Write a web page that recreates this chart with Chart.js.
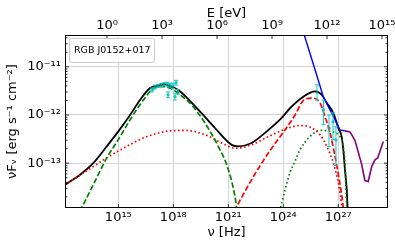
<!DOCTYPE html>
<html>
<head>
<meta charset="utf-8">
<script src="https://cdn.jsdelivr.net/npm/chart.js@4.4.0/dist/chart.umd.min.js"></script>
<style>
  html, body { margin: 0; padding: 0; background: #fff; }
  #wrap { width: 395px; height: 247px; }
</style>
</head>
<body>
<div id="wrap"><canvas id="sed"></canvas></div>
<script>
// values are log10(nu / Hz) and log10(nuFnu / erg s^-1 cm^-2)
const totalNu = [12.09, 12.91, 13.63, 14.37, 15.0, 15.64, 16.18, 16.73, 17.18, 17.45, 17.8, 18.27, 19.36, 20.27, 21.18, 21.54, 22.27, 23.0, 23.91, 24.36, 25.09, 25.73, 26.09, 26.37, 26.73, 27.0, 27.18, 27.27, 27.36, 27.46, 27.52];
const totalFlux = [-13.45, -13.24, -13.0, -12.65, -12.34, -12.0, -11.69, -11.44, -11.385, -11.365, -11.4, -11.48, -11.89, -12.27, -12.62, -12.65, -12.58, -12.37, -12.06, -11.86, -11.62, -11.51, -11.58, -11.75, -11.96, -12.27, -12.45, -12.72, -13.13, -13.55, -14.05];

const greenDashedNu = [12.9, 13.63, 14.37, 15.0, 15.64, 16.36, 16.91, 17.44, 17.93, 18.27, 19.0, 19.73, 20.45, 21.0, 21.36, 21.5];
const greenDashedFlux = [-14.0, -13.45, -12.89, -12.51, -12.1, -11.69, -11.45, -11.41, -11.46, -11.55, -11.79, -12.17, -12.65, -13.13, -13.69, -14.05];

const redDottedNu = [12.09, 13.63, 14.37, 15.46, 16.55, 17.82, 18.64, 19.73, 20.64, 21.36, 22.27, 23.18, 24.27, 24.91, 25.45, 26.0, 26.37, 26.73, 27.0, 27.18, 27.25];
const redDottedFlux = [-13.45, -13.07, -12.89, -12.65, -12.45, -12.33, -12.32, -12.41, -12.58, -12.69, -12.62, -12.45, -12.27, -12.22, -12.25, -12.41, -12.65, -13.0, -13.41, -13.86, -14.05];

const redDashedNu = [21.31, 22.27, 23.18, 24.09, 24.64, 25.09, 25.55, 26.0, 26.27, 26.55, 26.82, 27.05, 27.24, 27.3];
const redDashedFlux = [-14.0, -13.34, -12.79, -12.31, -12.0, -11.7, -11.65, -11.75, -12.03, -12.37, -12.86, -13.34, -13.82, -14.05];

const greenDottedNu = [23.79, 24.36, 24.64, 24.91, 25.45, 26.0, 26.55, 27.09, 27.27, 27.36, 27.42, 27.47];
const greenDottedFlux = [-14.0, -13.2, -12.96, -12.72, -12.45, -12.32, -12.34, -12.45, -12.65, -13.0, -13.55, -14.05];

const blueNu = [25.06, 25.82, 26.18, 26.27, 26.73, 27.09, 27.36];
const blueFlux = [-10.24, -11.17, -11.62, -11.69, -12.03, -12.31, -12.33];

const purpleNu = [27.36, 27.64, 27.91, 28.27, 28.45, 28.63, 28.82, 29.0, 29.15, 29.45];
const purpleFlux = [-12.33, -12.35, -12.53, -13.02, -13.36, -13.38, -13.07, -12.93, -12.89, -12.55];

const xrayNu = [16.84, 17.0, 17.16, 17.33, 17.49, 17.65, 17.82, 17.98, 18.15, 17.71, 18.09, 18.26];
const xrayFlux = [-11.48, -11.42, -11.4, -11.38, -11.36, -11.36, -11.38, -11.4, -11.33, -11.58, -11.62, -11.52];
const xrayErr = [0.04, 0.04, 0.03, 0.03, 0.03, 0.04, 0.04, 0.05, 0.05, 0.06, 0.07, 0.05];

const gammaNu = [25.84, 26.19, 26.49, 26.71, 26.87];
const gammaFlux = [-11.52, -11.89, -12.27, -12.14, -12.52];
const gammaHi = [-11.375, -11.69, -12.0, -11.955, -12.245];
const gammaLo = [-11.69, -12.2, -12.66, -12.51, -13.05];

const xTicks = [15, 18, 21, 24, 27];
const eTicks = [0, 3, 6, 9, 12, 15];
const yTicks = [-13, -12, -11];
const xRange = [12.09, 29.71];
const yRange = [-13.93, -10.34];
const hzToEv = -14.3834; // log10(h / e)
const sourceName = 'RGB J0152+017';

Chart.defaults.font.family = "'DejaVu Sans', sans-serif";
Chart.defaults.color = '#000';

const supDigits = '⁰¹²³⁴⁵⁶⁷⁸⁹';
const sup = n => String(n).split('').map(c => c === '-' ? '⁻' : supDigits[+c]).join('');
const powLabel = v => '10' + sup(Math.round(Math.log10(v)));
const pts = (nu, f) => nu.map((v, i) => ({ x: 10 ** v, y: 10 ** f[i] }));

function curve(nu, f, color, dash, width, smooth) {
    return {
        data: pts(nu, f),
        showLine: true,
        borderColor: color,
        borderWidth: width,
        borderDash: dash,
        pointRadius: 0,
        cubicInterpolationMode: smooth ? 'monotone' : 'default',
        tension: 0,
        xAxisID: 'x',
        yAxisID: 'y'
    };
}

const tickFont = { size: 13 };

// error bars drawn through the chart scales
const errorBars = {
    id: 'errorBars',
    afterDatasetsDraw(chart) {
        const { ctx, scales: { x, y } } = chart;
        ctx.save();
        ctx.strokeStyle = '#10c8c8';
        ctx.lineWidth = 1;
        const bar = (nu, hi, lo) => {
            const px = x.getPixelForValue(10 ** nu);
            const y1 = y.getPixelForValue(10 ** hi);
            const y2 = y.getPixelForValue(10 ** lo);
            ctx.beginPath();
            ctx.moveTo(px, y1); ctx.lineTo(px, y2);
            ctx.moveTo(px - 2, y1); ctx.lineTo(px + 2, y1);
            ctx.moveTo(px - 2, y2); ctx.lineTo(px + 2, y2);
            ctx.stroke();
        };
        xrayNu.forEach((v, i) => bar(v, xrayFlux[i] + xrayErr[i], xrayFlux[i] - xrayErr[i]));
        gammaNu.forEach((v, i) => bar(v, gammaHi[i], gammaLo[i]));
        ctx.restore();
    }
};

// frame, inward ticks and the text box
const frame = {
    id: 'frame',
    afterDraw(chart) {
        const { ctx, chartArea: a, scales } = chart;
        const l = Math.round(a.left) + 0.5, r = Math.round(a.right) - 0.5;
        const t = Math.round(a.top) + 0.5, b = Math.round(a.bottom) - 0.5;
        ctx.save();
        ctx.strokeStyle = '#000';
        ctx.lineWidth = 0.8;
        ctx.beginPath();
        xTicks.forEach(e => {
            const px = scales.x.getPixelForValue(10 ** e);
            ctx.moveTo(px, b); ctx.lineTo(px, b - 3.5);
        });
        eTicks.forEach(e => {
            const px = scales.x2.getPixelForValue(10 ** e);
            ctx.moveTo(px, t); ctx.lineTo(px, t + 3.5);
        });
        for (let d = -14; d <= -11; d++) {
            for (let m = 1; m <= 9; m++) {
                const v = m * 10 ** d;
                if (v < scales.y.min || v > scales.y.max) continue;
                const py = scales.y.getPixelForValue(v);
                const len = m === 1 ? 3.5 : 2;
                ctx.moveTo(l, py); ctx.lineTo(l + len, py);
                ctx.moveTo(r, py); ctx.lineTo(r - len, py);
            }
        }
        ctx.stroke();
        ctx.lineWidth = 1;
        ctx.strokeRect(l, t, r - l, b - t);

        ctx.fillStyle = 'rgba(255,255,255,0.85)';
        ctx.strokeStyle = '#cccccc';
        ctx.beginPath();
        ctx.roundRect(69.5, 38.5, 85, 24, 2);
        ctx.fill();
        ctx.stroke();
        ctx.fillStyle = '#000';
        ctx.font = "9.5px 'DejaVu Sans'";
        ctx.textBaseline = 'middle';
        ctx.fillText(sourceName, 74, 50.5);
        ctx.restore();
    }
};

new Chart(document.getElementById('sed'), {
    type: 'scatter',
    data: {
        datasets: [
            curve(blueNu, blueFlux, '#0000ff', [], 1.4, false),
            curve(purpleNu, purpleFlux, '#800080', [], 1.6, false),
            curve(greenDashedNu, greenDashedFlux, '#008000', [5.5, 2.4], 1.7, true),
            curve(redDottedNu, redDottedFlux, '#ff0000', [1.6, 2.5], 1.7, true),
            curve(redDashedNu, redDashedFlux, '#ff0000', [5.5, 2.4], 1.7, true),
            curve(greenDottedNu, greenDottedFlux, '#008000', [1.6, 2.5], 1.7, true),
            curve(totalNu, totalFlux, '#000000', [], 1.8, true),
            {
                data: pts(xrayNu, xrayFlux).concat(pts(gammaNu, gammaFlux)),
                pointRadius: 1.6,
                backgroundColor: '#10c8c8',
                borderWidth: 0,
                xAxisID: 'x',
                yAxisID: 'y'
            }
        ]
    },
    options: {
        responsive: true,
        maintainAspectRatio: false,
        animation: false,
        layout: { padding: { right: 7 } },
        plugins: { legend: { display: false }, tooltip: { enabled: false } },
        scales: {
            x: {
                type: 'logarithmic',
                position: 'bottom',
                bounds: 'data',
                min: 10 ** xRange[0],
                max: 10 ** xRange[1],
                afterBuildTicks: s => { s.ticks = xTicks.map(v => ({ value: 10 ** v })); },
                afterFit: s => { s.height = 39; s.paddingLeft = 0; s.paddingRight = 0; },
                ticks: { callback: powLabel, maxRotation: 0, autoSkip: false, padding: 2, font: tickFont },
                grid: { color: '#d4d4d4', drawTicks: false },
                border: { display: false },
                title: { display: true, text: 'ν [Hz]', font: tickFont, padding: { top: 0, bottom: 7 } }
            },
            x2: {
                type: 'logarithmic',
                axis: 'x',
                position: 'top',
                bounds: 'data',
                min: 10 ** (xRange[0] + hzToEv),
                max: 10 ** (xRange[1] + hzToEv),
                afterBuildTicks: s => { s.ticks = eTicks.map(v => ({ value: 10 ** v })); },
                afterFit: s => { s.height = 35; s.paddingLeft = 0; s.paddingRight = 0; },
                ticks: { callback: powLabel, maxRotation: 0, autoSkip: false, padding: -6, font: tickFont },
                grid: { display: false },
                border: { display: false },
                title: { display: true, text: 'E [eV]', font: tickFont, padding: { top: 6, bottom: 0 } }
            },
            y: {
                type: 'logarithmic',
                position: 'left',
                bounds: 'data',
                min: 10 ** yRange[0],
                max: 10 ** yRange[1],
                afterBuildTicks: s => { s.ticks = yTicks.map(v => ({ value: 10 ** v })); },
                afterFit: s => { s.width = 65; },
                ticks: { callback: powLabel, autoSkip: false, padding: 4, font: tickFont },
                grid: { color: '#d4d4d4', drawTicks: false },
                border: { display: false },
                title: { display: true, text: 'νFᵥ [erg s⁻¹ cm⁻²]', font: tickFont, padding: { top: 5, bottom: 0 } }
            }
        }
    },
    plugins: [errorBars, frame]
});
</script>
</body>
</html>
